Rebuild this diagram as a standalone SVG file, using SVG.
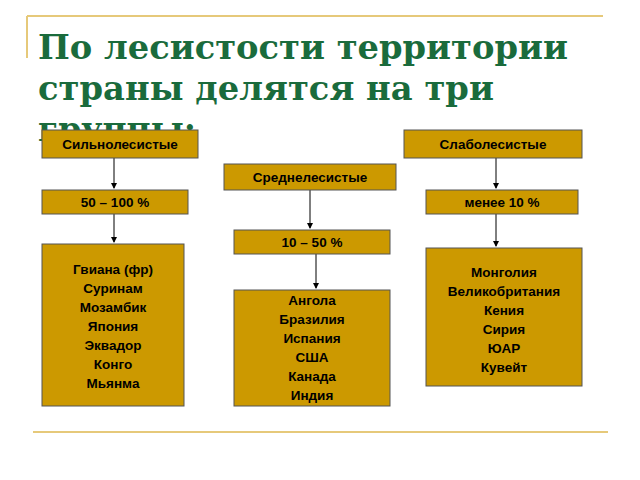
<svg xmlns="http://www.w3.org/2000/svg" width="640" height="480" viewBox="0 0 640 480">
<style>
.b{fill:#CC9900;stroke:#555;stroke-width:1}
.t{font-family:"Liberation Sans",Arial,sans-serif;font-weight:bold;font-size:13.5px;fill:#000;text-anchor:middle}
.h{font-family:"DejaVu Serif","Liberation Serif",serif;font-weight:bold;font-size:33px;fill:#1A6B3C}
.c{stroke:#000;stroke-width:1;fill:none;marker-end:url(#a)}
</style>
<defs><marker id="a" markerWidth="6" markerHeight="6" refX="5" refY="3" orient="auto" markerUnits="userSpaceOnUse"><path d="M0,0L6,3L0,6z" fill="#000"/></marker></defs>
<rect width="640" height="480" fill="#fff"/>
<path d="M27,16H603M27,16V58M33,432H608" stroke="#E6C97A" stroke-width="2" fill="none"/>
<g id="title"><text class="h" x="38" y="59" textLength="530" lengthAdjust="spacingAndGlyphs">По лесистости территории</text><text class="h" x="38" y="100" textLength="456" lengthAdjust="spacingAndGlyphs">страны делятся на три</text><text class="h" x="38" y="141">группы:</text></g>
<g id="connectors">
<path class="c" d="M114,158V188"/><path class="c" d="M114,214V242"/>
<path class="c" d="M310,190V228"/><path class="c" d="M316,254V288"/>
<path class="c" d="M496,158V188"/><path class="c" d="M496,214V246"/>
</g>
<g id="n1"><rect class="b" x="42" y="130" width="156" height="28"/><text class="t" x="120" y="149">Сильнолесистые</text></g>
<g id="n2"><rect class="b" x="404" y="130" width="178" height="28"/><text class="t" x="493" y="149">Слаболесистые</text></g>
<g id="n3"><rect class="b" x="224" y="164" width="172" height="26"/><text class="t" x="310" y="182">Среднелесистые</text></g>
<g id="n4"><rect class="b" x="42" y="190" width="146" height="24"/><text class="t" x="115" y="207">50 – 100 %</text></g>
<g id="n5"><rect class="b" x="426" y="190" width="152" height="24"/><text class="t" x="502" y="207">менее 10 %</text></g>
<g id="n6"><rect class="b" x="234" y="230" width="156" height="24"/><text class="t" x="312" y="247">10 – 50 %</text></g>
<g id="n7"><rect class="b" x="42" y="244" width="142" height="162"/><text class="t" x="113" y="274"><tspan x="113">Гвиана (фр)</tspan><tspan x="113" dy="19">Суринам</tspan><tspan x="113" dy="19">Мозамбик</tspan><tspan x="113" dy="19">Япония</tspan><tspan x="113" dy="19">Эквадор</tspan><tspan x="113" dy="19">Конго</tspan><tspan x="113" dy="19">Мьянма</tspan></text></g>
<g id="n8"><rect class="b" x="234" y="290" width="156" height="116"/><text class="t" x="312" y="305"><tspan x="312">Ангола</tspan><tspan x="312" dy="19">Бразилия</tspan><tspan x="312" dy="19">Испания</tspan><tspan x="312" dy="19">США</tspan><tspan x="312" dy="19">Канада</tspan><tspan x="312" dy="19">Индия</tspan></text></g>
<g id="n9"><rect class="b" x="426" y="248" width="156" height="138"/><text class="t" x="504" y="277"><tspan x="504">Монголия</tspan><tspan x="504" dy="19">Великобритания</tspan><tspan x="504" dy="19">Кения</tspan><tspan x="504" dy="19">Сирия</tspan><tspan x="504" dy="19">ЮАР</tspan><tspan x="504" dy="19">Кувейт</tspan></text></g>
</svg>
